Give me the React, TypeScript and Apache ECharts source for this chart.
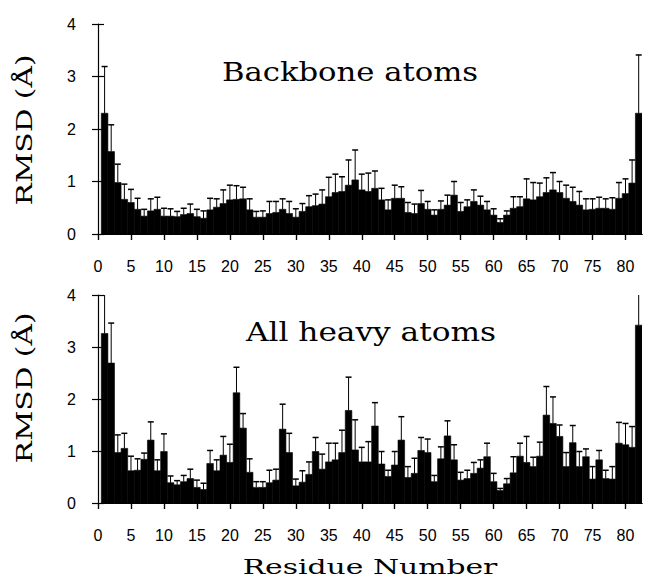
import React, { useEffect, useRef } from "react";
import * as echarts from "echarts";

// Residue numbers 1..82
const residues: number[] = Array.from({ length: 82 }, (_, i) => i + 1);

const xTicks = [0, 5, 10, 15, 20, 25, 30, 35, 40, 45, 50, 55, 60, 65, 70, 75, 80];
const yTicks = [0, 1, 2, 3, 4];

// Backbone atoms RMSD (Å) and error (upper SD)
const backboneRmsd = [
  2.30, 1.57, 0.98, 0.66, 0.60, 0.47, 0.34, 0.44, 0.47, 0.34,
  0.34, 0.33, 0.37, 0.39, 0.33, 0.30, 0.46, 0.51, 0.58, 0.65,
  0.66, 0.67, 0.46, 0.32, 0.32, 0.39, 0.41, 0.47, 0.39, 0.32,
  0.43, 0.52, 0.54, 0.57, 0.71, 0.79, 0.81, 0.93, 1.03, 0.84,
  0.81, 0.87, 0.65, 0.46, 0.68, 0.68, 0.41, 0.39, 0.58, 0.47,
  0.36, 0.47, 0.55, 0.74, 0.43, 0.52, 0.62, 0.55, 0.46, 0.36,
  0.22, 0.36, 0.49, 0.52, 0.67, 0.65, 0.71, 0.79, 0.84, 0.79,
  0.68, 0.62, 0.55, 0.46, 0.47, 0.49, 0.49, 0.47, 0.68, 0.77,
  0.97, 2.30,
];
const backboneErr = [
  0.89, 0.51, 0.35, 0.29, 0.25, 0.21, 0.13, 0.23, 0.23, 0.15,
  0.14, 0.10, 0.12, 0.18, 0.14, 0.14, 0.22, 0.16, 0.26, 0.28,
  0.26, 0.22, 0.21, 0.11, 0.12, 0.23, 0.21, 0.20, 0.23, 0.16,
  0.15, 0.21, 0.22, 0.27, 0.37, 0.35, 0.28, 0.48, 0.57, 0.30,
  0.35, 0.33, 0.22, 0.19, 0.25, 0.22, 0.19, 0.18, 0.25, 0.15,
  0.10, 0.16, 0.19, 0.26, 0.17, 0.13, 0.22, 0.17, 0.16, 0.12,
  0.07, 0.08, 0.22, 0.19, 0.38, 0.33, 0.26, 0.28, 0.33, 0.21,
  0.25, 0.27, 0.26, 0.21, 0.20, 0.21, 0.18, 0.22, 0.30, 0.28,
  0.44, 1.11,
];

// All heavy atoms RMSD (Å) and error
const heavyRmsd = [
  3.26, 2.69, 0.97, 1.05, 0.62, 0.63, 0.84, 1.21, 0.62, 0.99,
  0.39, 0.35, 0.41, 0.47, 0.30, 0.26, 0.76, 0.62, 0.92, 0.78,
  2.12, 1.44, 0.59, 0.30, 0.30, 0.39, 0.44, 1.42, 0.97, 0.33,
  0.40, 0.55, 0.99, 0.65, 0.79, 0.83, 0.97, 1.78, 1.02, 0.79,
  0.79, 1.48, 0.75, 0.51, 0.73, 1.21, 0.49, 0.57, 1.01, 0.97,
  0.41, 0.85, 1.29, 0.83, 0.44, 0.47, 0.57, 0.67, 0.89, 0.41,
  0.24, 0.37, 0.58, 0.90, 0.78, 0.70, 0.90, 1.69, 1.53, 1.28,
  0.70, 1.16, 0.70, 0.89, 0.46, 0.83, 0.47, 0.46, 1.15, 1.12,
  1.07, 3.42,
];
const heavyErr = [
  0.80, 0.77, 0.34, 0.29, 0.28, 0.22, 0.12, 0.35, 0.21, 0.34,
  0.13, 0.08, 0.12, 0.18, 0.14, 0.12, 0.25, 0.21, 0.36, 0.35,
  0.49, 0.28, 0.26, 0.11, 0.11, 0.24, 0.21, 0.48, 0.37, 0.13,
  0.22, 0.24, 0.27, 0.29, 0.36, 0.32, 0.43, 0.64, 0.58, 0.28,
  0.39, 0.45, 0.24, 0.12, 0.26, 0.45, 0.21, 0.29, 0.25, 0.26,
  0.12, 0.23, 0.29, 0.29, 0.15, 0.16, 0.21, 0.16, 0.26, 0.16,
  0.04, 0.10, 0.31, 0.25, 0.50, 0.18, 0.27, 0.55, 0.51, 0.22,
  0.27, 0.33, 0.29, 0.15, 0.24, 0.18, 0.16, 0.24, 0.40, 0.41,
  0.40, 0.80,
];

const panelTitles = ["Backbone atoms", "All heavy atoms"];
const yTitle = "RMSD (Å)";
const xTitle = "Residue Number";

const SERIF = '"DejaVu Serif", "Liberation Serif", serif';
const SANS = '"Liberation Sans", Arial, sans-serif';

const renderItem = (_params: any, api: any) => {
  const x = api.value(0);
  const v = api.value(1);
  const e = api.value(2);
  const tl = api.coord([x - 0.5, v]);
  const br = api.coord([x + 0.5, 0]);
  const top = api.coord([x, v + e]);
  const cx = api.coord([x, 0])[0];
  return {
    type: "group",
    children: [
      {
        type: "rect",
        shape: { x: tl[0], y: tl[1], width: br[0] - tl[0], height: br[1] - tl[1] },
        style: { fill: "#000", stroke: "#000", lineWidth: 0.6 },
      },
      {
        type: "line",
        shape: { x1: cx, y1: tl[1], x2: cx, y2: top[1] },
        style: { stroke: "#000", lineWidth: 1 },
      },
      {
        type: "line",
        shape: { x1: cx - 3, y1: top[1], x2: cx + 3, y2: top[1] },
        style: { stroke: "#000", lineWidth: 1.5 },
      },
    ],
  };
};

export default function App() {
  const ref = useRef<HTMLDivElement>(null);
  useEffect(() => {
    document.body.style.margin = "0";
    if (!ref.current) return;
    const chart = echarts.init(ref.current, undefined, { renderer: "svg" });

    const grids = [
      { left: 98, top: 24, width: 544, height: 210 },
      { left: 98, top: 295, width: 544, height: 208 },
    ];

    const xAxes: any[] = [];
    const yAxes: any[] = [];
    grids.forEach((_, g) => {
      xAxes.push({
        type: "value",
        gridIndex: g,
        min: 0,
        max: 82.5,
        interval: 5,
        position: "bottom",
        axisLine: { show: true, lineStyle: { color: "#000", width: 1.2 } },
        axisTick: { show: true, inside: false, length: 6, lineStyle: { color: "#000", width: 1.2 }, customValues: xTicks },
        axisLabel: {
          show: true,
          margin: 24,
          color: "#000",
          fontSize: 16,
          fontFamily: SANS,
          customValues: xTicks,
        },
        splitLine: { show: false },
      });
      xAxes.push({
        type: "value",
        gridIndex: g,
        min: 0,
        max: 82.5,
        interval: 5,
        position: "top",
        axisLine: { show: true, lineStyle: { color: "#000", width: 1.2 } },
        axisTick: { show: true, inside: true, length: 6, lineStyle: { color: "#000", width: 1.2 }, customValues: xTicks },
        axisLabel: { show: false },
        splitLine: { show: false },
      });
      yAxes.push({
        type: "value",
        gridIndex: g,
        min: 0,
        max: 4,
        interval: 1,
        position: "left",
        axisLine: { show: true, lineStyle: { color: "#000", width: 1.2 } },
        axisTick: { show: true, inside: false, length: 6, lineStyle: { color: "#000", width: 1.2 } },
        axisLabel: {
          show: true,
          margin: 22,
          color: "#000",
          fontSize: 16,
          fontFamily: SANS,
          customValues: yTicks,
        },
        splitLine: { show: false },
      });
      yAxes.push({
        type: "value",
        gridIndex: g,
        min: 0,
        max: 4,
        interval: 1,
        position: "left",
        offset: 0,
        axisLine: { show: false },
        axisTick: { show: true, inside: true, length: 6, lineStyle: { color: "#000", width: 1.2 } },
        axisLabel: { show: false },
        splitLine: { show: false },
      });
    });

    const makeData = (vals: number[], errs: number[]) =>
      residues.map((r, i) => [r, vals[i], errs[i]]);

    chart.setOption({
      animation: false,
      backgroundColor: "#fff",
      grid: grids,
      xAxis: xAxes,
      yAxis: yAxes,
      series: [
        {
          type: "custom",
          xAxisIndex: 0,
          yAxisIndex: 0,
          clip: true,
          renderItem,
          encode: { x: 0, y: 1 },
          data: makeData(backboneRmsd, backboneErr),
        },
        {
          type: "custom",
          xAxisIndex: 2,
          yAxisIndex: 2,
          clip: true,
          renderItem,
          encode: { x: 0, y: 1 },
          data: makeData(heavyRmsd, heavyErr),
        },
      ],
      graphic: [
        {
          type: "text",
          x: 350,
          y: 72,
          scaleX: 1.18,
          style: { text: panelTitles[0], fontSize: 26, fontFamily: SERIF, fill: "#000", align: "center", verticalAlign: "middle" },
        },
        {
          type: "text",
          x: 371,
          y: 332,
          scaleX: 1.2,
          style: { text: panelTitles[1], fontSize: 26, fontFamily: SERIF, fill: "#000", align: "center", verticalAlign: "middle" },
        },
        {
          type: "text",
          x: 24,
          y: 130,
          rotation: Math.PI / 2,
          scaleX: 1.35,
          style: { text: yTitle, fontSize: 22, fontFamily: SERIF, fill: "#000", align: "center", verticalAlign: "middle" },
        },
        {
          type: "text",
          x: 24,
          y: 388,
          rotation: Math.PI / 2,
          scaleX: 1.35,
          style: { text: yTitle, fontSize: 22, fontFamily: SERIF, fill: "#000", align: "center", verticalAlign: "middle" },
        },
        {
          type: "text",
          x: 370,
          y: 567,
          scaleX: 1.42,
          style: { text: xTitle, fontSize: 21, fontFamily: SERIF, fill: "#000", align: "center", verticalAlign: "middle" },
        },
      ],
    });
    return () => chart.dispose();
  }, []);
  return <div ref={ref} style={{ width: 645, height: 584 }} />;
}
